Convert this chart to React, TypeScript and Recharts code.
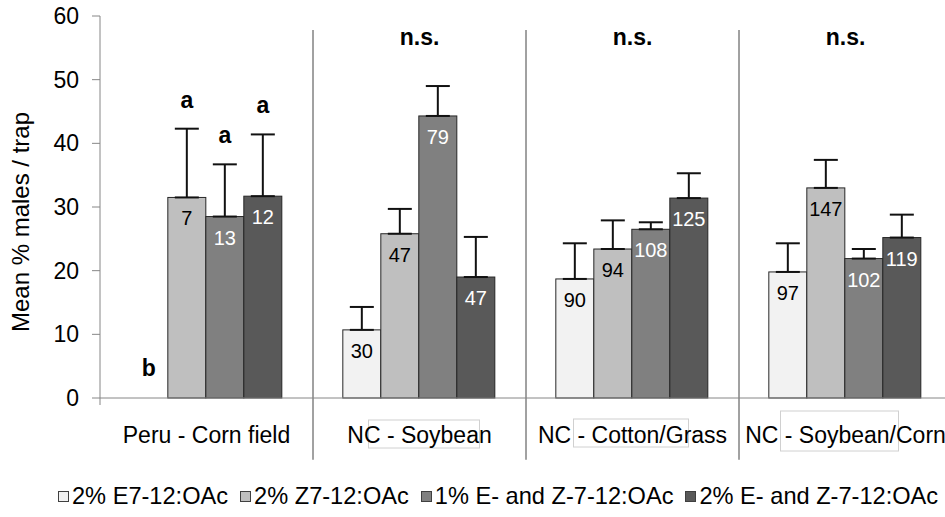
import React from 'react';
import {
  ComposedChart,
  Bar,
  ErrorBar,
  XAxis,
  YAxis,
  Legend,
  ReferenceLine,
  ReferenceDot,
} from 'recharts';

// sites (categories)
const groups = ['Peru - Corn field', 'NC - Soybean', 'NC - Cotton/Grass', 'NC - Soybean/Corn'];

// series names
const seriesNames = [
  '2% E7-12:OAc',
  '2% Z7-12:OAc',
  '1% E- and Z-7-12:OAc',
  '2% E- and Z-7-12:OAc',
];

// mean % males / trap
const e7Mean = [0, 10.7, 18.7, 19.8];
const z7Mean = [31.5, 25.8, 23.4, 33.0];
const ez1Mean = [28.5, 44.3, 26.5, 21.9];
const ez2Mean = [31.7, 19.0, 31.4, 25.2];

// upper error (SE)
const e7Err = [null, 3.6, 5.6, 4.5];
const z7Err = [10.8, 3.9, 4.5, 4.4];
const ez1Err = [8.2, 4.7, 1.1, 1.5];
const ez2Err = [9.7, 6.3, 3.9, 3.6];

// number of males (labels in bars)
const e7N = [null, 30, 90, 97];
const z7N = [7, 47, 94, 147];
const ez1N = [13, 79, 108, 102];
const ez2N = [12, 47, 125, 119];

// significance letters
const e7Sig = ['b', '', '', ''];
const z7Sig = ['a', '', '', ''];
const ez1Sig = ['a', '', '', ''];
const ez2Sig = ['a', '', '', ''];
const groupSig = ['', 'n.s.', 'n.s.', 'n.s.'];

const yTicks = [0, 10, 20, 30, 40, 50, 60];

const FONT = '"Liberation Sans", Arial, sans-serif';
const colors = ['#f2f2f2', '#bfbfbf', '#808080', '#595959'];
const labelColors = ['#000', '#000', '#fff', '#fff'];

const means = [e7Mean, z7Mean, ez1Mean, ez2Mean];
const errs = [e7Err, z7Err, ez1Err, ez2Err];
const counts = [e7N, z7N, ez1N, ez2N];
const sigs = [e7Sig, z7Sig, ez1Sig, ez2Sig];

const data = groups.map((g, i) => {
  const row: any = { group: g };
  means.forEach((m, s) => {
    row[`s${s}`] = m[i];
    row[`s${s}err`] = errs[s][i];
    row[`s${s}n`] = counts[s][i];
    row[`s${s}sig`] = sigs[s][i];
  });
  return row;
});

// faint text-box outlines around the axis labels (as in the original)
const labelBoxes: Record<number, [number, number, number, number]> = {
  1: [-51, 22, 111, 28],
  2: [-59, 21, 115, 28],
  3: [-65, 13, 118, 40],
};

const makeShape = (s: number) => (props: any) => {
  const { x, y, width, height, payload } = props;
  const value = payload[`s${s}`];
  const err = payload[`s${s}err`];
  const n = payload[`s${s}n`];
  const sig = payload[`s${s}sig`];
  const cx = x + width / 2;
  let sigY = y - 22;
  if (value > 0 && err != null) {
    const perUnit = height / value;
    sigY = y - err * perUnit - 21;
  }
  return (
    <g>
      {height > 0 && (
        <rect x={x} y={y} width={width} height={height} fill={colors[s]} stroke="#262626" strokeWidth={1} />
      )}
      {n != null && (
        <text
          x={cx}
          y={y + 21}
          textAnchor="middle"
          dominantBaseline="central"
          fontSize={20}
          fontFamily={FONT}
          fill={labelColors[s]}
        >
          {n}
        </text>
      )}
      {sig && (
        <text x={cx} y={sigY} textAnchor="middle" fontSize={23} fontWeight="bold" fontFamily={FONT} fill="#000">
          {sig}
        </text>
      )}
    </g>
  );
};

const renderXTick = (props: any) => {
  const { x, y, payload } = props;
  const box = labelBoxes[payload.index];
  return (
    <g>
      {box && (
        <rect x={x + box[0]} y={y + box[1]} width={box[2]} height={box[3]} fill="none" stroke="#d0d0d0" strokeWidth={1} />
      )}
      <text x={x} y={y + 37} textAnchor="middle" dominantBaseline="central" fontSize={23} fontFamily={FONT} fill="#000">
        {payload.value}
      </text>
    </g>
  );
};

const renderYLabel = (props: any) => {
  const vb = props.viewBox || {};
  const cx = (vb.x || 0) + 20;
  const cy = (vb.y || 0) + (vb.height || 0) / 2 + 15;
  return (
    <text
      x={cx}
      y={cy}
      transform={`rotate(-90 ${cx} ${cy})`}
      textAnchor="middle"
      dominantBaseline="central"
      fontSize={24}
      fontFamily={FONT}
      fill="#000"
    >
      Mean % males / trap
    </text>
  );
};

const renderLegend = () => (
  <div
    style={{
      display: 'flex',
      alignItems: 'center',
      height: 30,
      paddingLeft: 58,
      fontFamily: FONT,
      fontSize: 23.6,
      whiteSpace: 'nowrap',
      color: '#000',
    }}
  >
    {seriesNames.map((name, i) => (
      <span key={name} style={{ display: 'inline-flex', alignItems: 'center', marginRight: 12 }}>
        <span
          style={{
            display: 'inline-block',
            width: 9,
            height: 9,
            border: '1px solid #404040',
            background: colors[i],
            marginRight: 3,
          }}
        />
        {name}
      </span>
    ))}
  </div>
);

const App: React.FC = () => {
  return (
    <div style={{ position: 'absolute', left: 0, top: 0, width: 945, height: 517, overflow: 'hidden', background: '#fff' }}>
      <ComposedChart
        width={952}
        height={517}
        data={data}
        margin={{ top: 16, right: 0, left: 0, bottom: 6 }}
        barCategoryGap="14%"
        barGap={0}
      >
        <XAxis
          dataKey="group"
          tick={renderXTick}
          tickLine={false}
          tickSize={0}
          tickMargin={0}
          height={83}
          axisLine={{ stroke: '#868686' }}
          interval={0}
        />
        <YAxis
          domain={[0, 60]}
          ticks={yTicks}
          width={100}
          tickSize={8}
          tickMargin={13}
          tick={{ fontSize: 23, fill: '#000', fontFamily: FONT }}
          axisLine={{ stroke: '#868686' }}
          tickLine={{ stroke: '#868686' }}
          label={renderYLabel}
        />
        {/* short extension of the value axis below zero */}
        <ReferenceLine
          segment={[
            { x: groups[0], y: -1.1 },
            { x: groups[0], y: 0 },
          ]}
          position="start"
          ifOverflow="visible"
          stroke="#868686"
          strokeWidth={1}
        />
        {/* separators between sites */}
        {groups.slice(1).map((g) => (
          <ReferenceLine
            key={g}
            segment={[
              { x: g, y: -9.7 },
              { x: g, y: 57.8 },
            ]}
            position="start"
            ifOverflow="visible"
            stroke="#444"
            strokeWidth={1}
          />
        ))}
        {groups.map((g, i) =>
          groupSig[i] ? (
            <ReferenceDot
              key={g}
              x={g}
              y={56.8}
              r={0}
              ifOverflow="visible"
              label={{
                value: groupSig[i],
                position: 'center',
                fontSize: 23,
                fontWeight: 'bold',
                fill: '#000',
                fontFamily: FONT,
              }}
            />
          ) : null
        )}
        {seriesNames.map((name, s) => (
          <Bar
            key={name}
            dataKey={`s${s}`}
            name={name}
            fill={colors[s]}
            stroke="#262626"
            shape={makeShape(s)}
            isAnimationActive={false}
          >
            <ErrorBar
              dataKey={(row: any) => (row[`s${s}err`] == null ? null : [0, row[`s${s}err`]])}
              width={12}
              stroke="#111"
              strokeWidth={2}
              direction="y"
            />
          </Bar>
        ))}
        <Legend
          verticalAlign="bottom"
          content={renderLegend}
          wrapperStyle={{ left: 0, bottom: 6, width: 945, height: 30 }}
        />
      </ComposedChart>
    </div>
  );
};

export default App;
